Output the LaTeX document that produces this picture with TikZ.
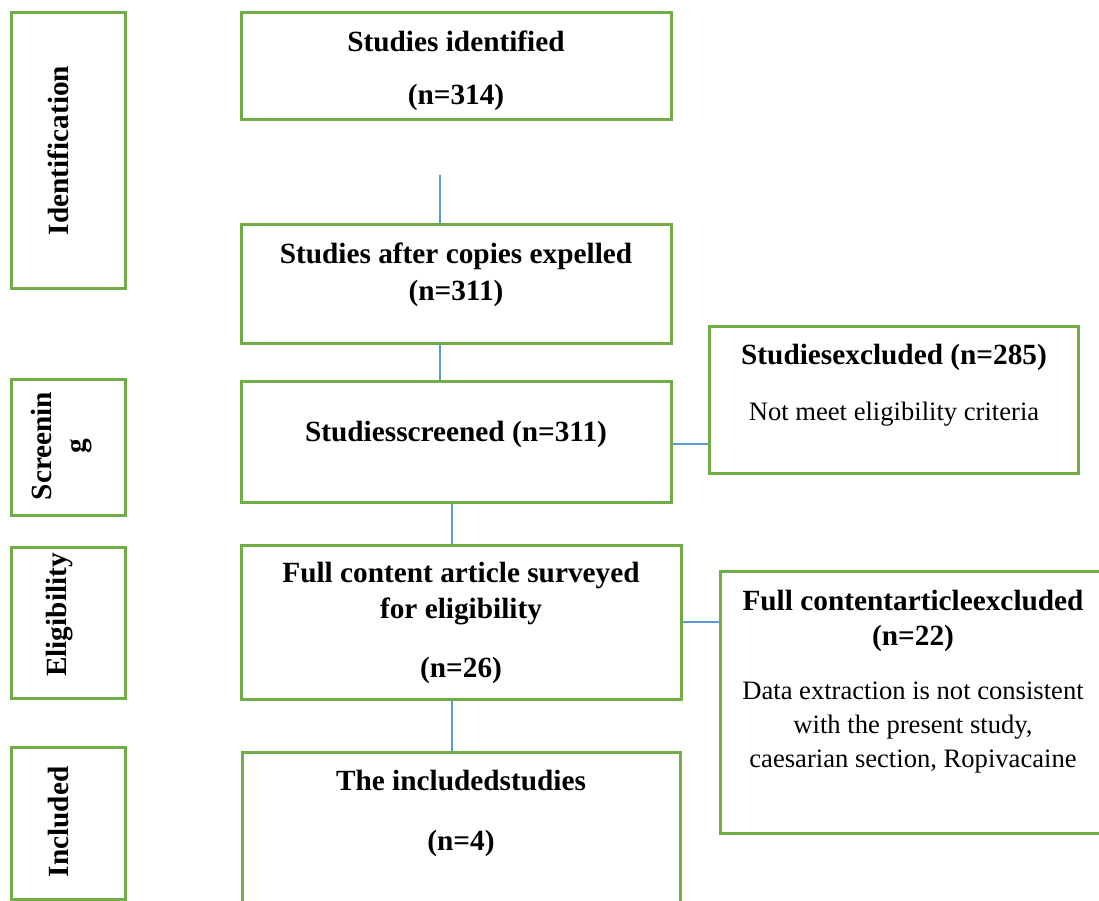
\documentclass[tikz,border=0pt]{standalone}
\usepackage{fontspec}
\setmainfont{Liberation Serif}
\definecolor{boxgreen}{HTML}{70AD47}
\definecolor{linkblue}{HTML}{5B9BD5}
\begin{document}
\begin{tikzpicture}[x=1pt,y=-1pt,
  box/.style={draw=boxgreen,line width=3pt,inner sep=0pt,rectangle},
  conn/.style={draw=linkblue,line width=1.4pt},
  bt/.style={font=\fontsize{29.3}{35}\selectfont\bfseries,anchor=base,inner sep=0pt},
  rt/.style={font=\fontsize{26.6}{34}\selectfont,anchor=base,inner sep=0pt},
  vt/.style={font=\fontsize{29.3}{35}\selectfont\bfseries,anchor=base,inner sep=0pt,rotate=90}]
\useasboundingbox (0,0) rectangle (1099,901);
\clip (0,0) rectangle (1099,901);
% stage boxes
\node[box,minimum width=114pt,minimum height=275pt] (id) at (68,150.5) {};
\node[box,minimum width=114pt,minimum height=136pt] (scr) at (68,447) {};
\node[box,minimum width=114pt,minimum height=151pt] (elig) at (68,622.5) {};
\node[box,minimum width=114pt,minimum height=152pt] (incl) at (68,823) {};
\node[vt] (tid) at (68,150.5) {Identification};
\node[vt] (tscr1) at (51,446) {Screenin};
\node[vt] (tscr2) at (85,446) {g};
\node[vt] (telig) at (66,615) {Eligibility};
\node[vt] (tincl) at (68,822) {Included};
% main boxes
\node[box,minimum width=430pt,minimum height=107pt] (b1) at (456,66.5) {};
\node[box,minimum width=430pt,minimum height=118pt] (b2) at (456,284) {};
\node[box,minimum width=430pt,minimum height=121pt] (b3) at (456,441.5) {};
\node[box,minimum width=440pt,minimum height=154pt] (b4) at (461,622) {};
\node[box,minimum width=438pt,minimum height=208pt] (b5) at (461,856) {};
\node[box,minimum width=369pt,minimum height=147pt] (e1) at (893.5,399.5) {};
\node[box,minimum width=386pt,minimum height=262pt] (e2) at (913,702) {};
% texts
\node[bt] (t1a) at (456,52) {Studies identified};
\node[bt] (t1b) at (456,105) {(n=314)};
\node[bt] (t2a) at (456,263) {Studies after copies expelled};
\node[bt] (t2b) at (456,300) {(n=311)};
\node[bt] (t3) at (456,441) {Studiesscreened (n=311)};
\node[bt] (t4a) at (461,582) {Full content article surveyed};
\node[bt] (t4b) at (461,618) {for eligibility};
\node[bt] (t4c) at (461,677) {(n=26)};
\node[bt] (t5a) at (461,790) {The includedstudies};
\node[bt] (t5b) at (461,850) {(n=4)};
\node[bt] (te1a) at (894,364) {Studiesexcluded (n=285)};
\node[rt] (te1b) at (894,420) {Not meet eligibility criteria};
\node[bt] (te2a) at (913,610) {Full contentarticleexcluded};
\node[bt] (te2b) at (913,645) {(n=22)};
\node[rt] (te2c) at (913,699) {Data extraction is not consistent};
\node[rt] (te2d) at (913,733) {with the present study,};
\node[rt] (te2e) at (913,767) {caesarian section, Ropivacaine};
% connectors
\coordinate (c1) at (440,175);
\coordinate (c2) at (452,0);
\coordinate (h1) at (0,444);
\coordinate (h2) at (0,622);
\draw[conn] (c1) -- (c1 |- b2.north);
\draw[conn] (b2.south -| c1) -- (b3.north -| c1);
\draw[conn] (b3.south -| c2) -- (b4.north -| c2);
\draw[conn] (b4.south -| c2) -- (b5.north -| c2);
\draw[conn] (b3.east |- h1) -- (e1.west |- h1);
\draw[conn] (b4.east |- h2) -- (e2.west |- h2);
\end{tikzpicture}
\end{document}
